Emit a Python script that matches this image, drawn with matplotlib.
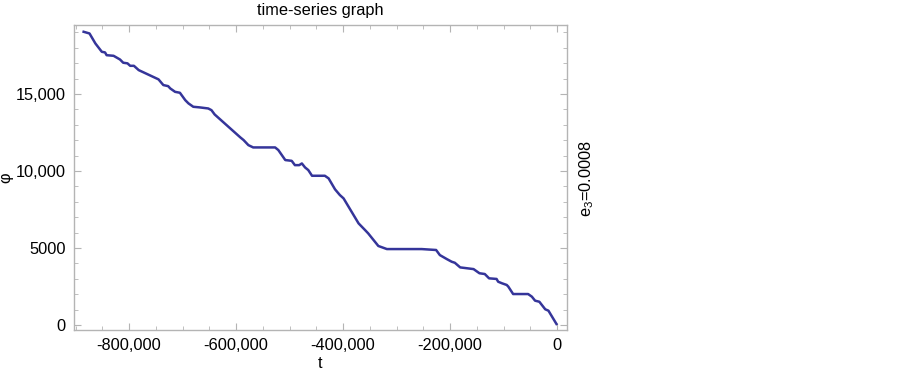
import matplotlib
matplotlib.use("Agg")
import matplotlib.pyplot as plt
from matplotlib.ticker import MultipleLocator, FuncFormatter

# values (t in thousands)
t_k = [-885, -874, -863, -851, -845, -842, -829, -817, -811, -803, -798, -791, -782,
       -745, -736, -727, -723, -714, -705, -695, -689, -680, -668, -652, -646, -640,
       -592, -586, -577, -568, -527, -521, -508, -496, -490, -482, -477, -471, -465,
       -458, -434, -427, -415, -406, -399, -371, -359, -353, -334, -318, -253, -226,
       -219, -206, -197, -191, -181, -156, -145, -135, -127, -113, -110, -103, -94,
       -91, -82, -54, -47, -41, -33, -22, -16, -1]
phi = [19040, 18930, 18280, 17740, 17700, 17520, 17480, 17240, 17030, 16990, 16830, 16830, 16550,
       15950, 15580, 15510, 15360, 15140, 15080, 14600, 14390, 14170, 14130, 14060, 13950, 13670,
       12180, 12010, 11680, 11530, 11530, 11360, 10710, 10660, 10380, 10380, 10490, 10230, 10060,
       9690, 9690, 9520, 8810, 8440, 8220, 6600, 6170, 5950, 5130, 4930, 4930, 4870,
       4540, 4280, 4110, 4040, 3740, 3630, 3360, 3310, 3030, 2990, 2810, 2710, 2600,
       2490, 2010, 2010, 1840, 1580, 1510, 1020, 930, 65]
t = [v * 1000 for v in t_k]

plt.rcParams['font.family'] = ['Liberation Sans', 'DejaVu Sans']
FS = 11.8
FRAME = '#b4b4b4'

fig = plt.figure(figsize=(9.03, 3.74), dpi=100)
ax = fig.add_axes([74/903, 1-330/374, (567-74)/903, (330-25)/374])
ax.plot(t, phi, color='#35359a', lw=1.8)

ax.set_xlim(-903000, 18700)
ax.set_ylim(-325, 19480)

def fmt(v, pos):
    v = int(round(v))
    return f"{v:,}" if abs(v) >= 10000 else f"{v}"

ax.xaxis.set_major_locator(MultipleLocator(200000))
ax.xaxis.set_minor_locator(MultipleLocator(50000))
ax.yaxis.set_major_locator(MultipleLocator(5000))
ax.yaxis.set_minor_locator(MultipleLocator(1000))
ax.xaxis.set_major_formatter(FuncFormatter(fmt))
ax.yaxis.set_major_formatter(FuncFormatter(fmt))

ax.tick_params(which='both', direction='in', color=FRAME, top=True, right=True,
               labelsize=FS, labelcolor='black')
ax.tick_params(which='major', length=5, width=0.8, pad=6)
ax.tick_params(which='minor', length=3, width=0.6)
for s in ax.spines.values():
    s.set_color(FRAME)
    s.set_linewidth(1.0)

ax.set_title("time-series graph", fontsize=FS, pad=7)
ax.set_xlabel("t", fontsize=FS, labelpad=2)
ax.set_ylabel("φ", fontsize=FS)
ax.yaxis.set_label_coords(-0.122, 0.5)

fig.text(587/903, 1-178/374, r"$\mathregular{e_3}$=0.0008", rotation=90,
         ha='center', va='center', fontsize=FS)

fig.savefig("out.png", dpi=100)
